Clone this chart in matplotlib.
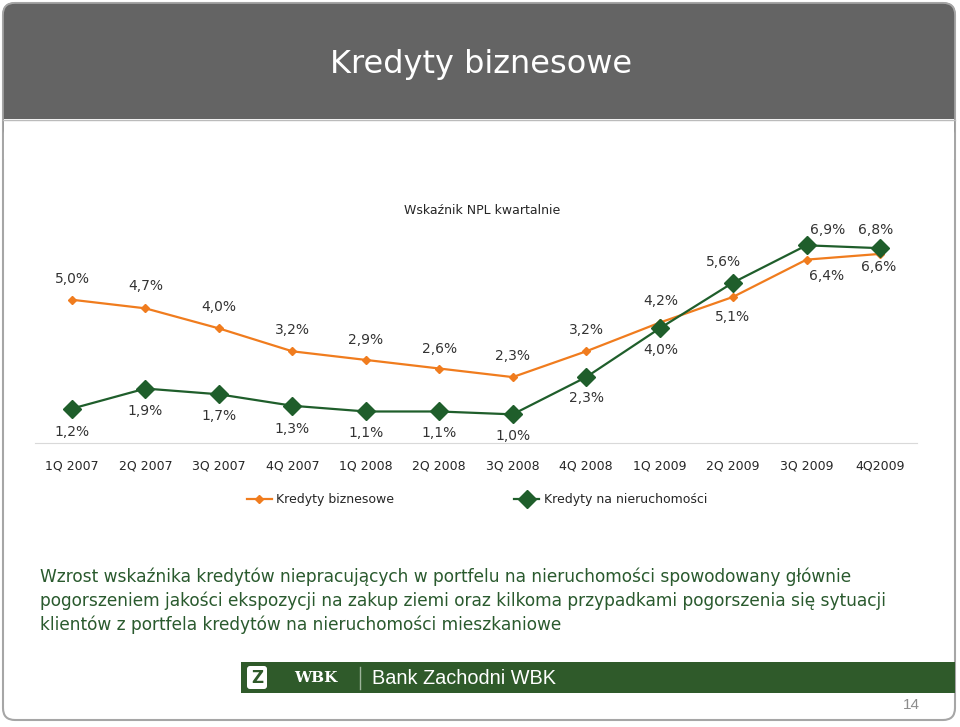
import matplotlib
matplotlib.use("Agg")
import matplotlib.pyplot as plt
from matplotlib.patches import FancyBboxPatch, Rectangle

plt.rcParams['font.family'] = ['DejaVu Sans']

# ---- data ----
categories = ["1Q 2007", "2Q 2007", "3Q 2007", "4Q 2007", "1Q 2008", "2Q 2008",
              "3Q 2008", "4Q 2008", "1Q 2009", "2Q 2009", "3Q 2009", "4Q2009"]
biznesowe = [5.0, 4.7, 4.0, 3.2, 2.9, 2.6, 2.3, 3.2, 4.2, 5.1, 6.4, 6.6]
nieruchomosci = [1.2, 1.9, 1.7, 1.3, 1.1, 1.1, 1.0, 2.3, 4.0, 5.6, 6.9, 6.8]
series_names = ["Kredyty biznesowe", "Kredyty na nieruchomości"]
chart_title = "Wskaźnik NPL kwartalnie"
slide_title = "Kredyty biznesowe"
body_text = ("Wzrost wskaźnika kredytów niepracujących w portfelu na nieruchomości spowodowany głównie\n"
             "pogorszeniem jakości ekspozycji na zakup ziemi oraz kilkoma przypadkami pogorszenia się sytuacji\n"
             "klientów z portfela kredytów na nieruchomości mieszkaniowe")
bank_name = "Bank Zachodni WBK"
page_no = "14"

# label offsets in pixels (dx, dy; dy positive = down)
off_b = [(0, -21), (0, -22), (0, -21), (0, -21), (0, -20), (0, -20), (0, -21), (0, -21),
         (1, -22), (-1, 20), (20, 16), (-1, 13)]
off_n = [(0, 23), (0, 22), (0, 22), (0, 23), (0, 22), (0, 22), (0, 22), (0, 21),
         (1, 22), (-10, -21), (21, -15), (-4, -18)]

ORANGE = "#F07C1E"
GREEN = "#1F5E2B"
W, H = 960, 727
fig = plt.figure(figsize=(W / 100, H / 100), dpi=100)

# ---- slide decoration (pixel coordinate background axes) ----
bg = fig.add_axes([0, 0, 1, 1])
bg.set_xlim(0, W)
bg.set_ylim(H, 0)
bg.axis("off")
bg.add_patch(FancyBboxPatch((3, 3), 952, 717, boxstyle="round,pad=0,rounding_size=12",
                            facecolor="white", edgecolor="#A6A6A6", lw=1.5))
bg.add_patch(FancyBboxPatch((3, 3), 952, 140, boxstyle="round,pad=0,rounding_size=12",
                            facecolor="#646464", edgecolor="#A6A6A6", lw=1.2))
bg.add_patch(Rectangle((3.8, 119), 950.4, 40, facecolor="white", edgecolor="none"))
bg.plot([3, 955], [119.5, 119.5], color="#BBBBBB", lw=1)
bg.text(481, 65, slide_title, color="white", fontsize=23, ha="center", va="center")

# footer
bg.add_patch(Rectangle((241, 662), 714, 31, facecolor="#2F5A2A", edgecolor="none"))
bg.add_patch(FancyBboxPatch((247, 666), 20, 23, boxstyle="round,pad=0,rounding_size=3",
                            facecolor="white", edgecolor="none"))
bg.text(257, 678, "Z", color="#2F5A2A", fontsize=12, fontweight="bold", ha="center", va="center")
bg.text(316, 678, "WBK", color="white", fontsize=11, fontweight="bold", ha="center", va="center",
        family=["DejaVu Serif"])
bg.plot([360, 360], [667, 689], color="#9DB39A", lw=1)
bg.text(372, 678, bank_name, color="white", fontsize=14.3, ha="left", va="center",
        family=["Liberation Sans"])
bg.text(911, 705, page_no, color="#8C8C8C", fontsize=11, ha="center", va="center",
        family=["Liberation Sans"])

# body text
bg.text(40, 601, body_text, color="#2A5A2E", fontsize=12.25, ha="left", va="center",
        linespacing=1.38)
bg.text(482, 211, chart_title, color="#262626", fontsize=9, ha="center", va="center")

# ---- chart ----
y0_px, px_per_unit = 443, 28.65
ymax = 7.5
ax = fig.add_axes([35.3 / W, (H - y0_px) / H, 881.4 / W, ymax * px_per_unit / H])
ax.set_xlim(-0.5, len(categories) - 0.5)
ax.set_ylim(0, ymax)
ax.patch.set_alpha(0)
for s in ["top", "right", "left"]:
    ax.spines[s].set_visible(False)
ax.spines["bottom"].set_color("#D9D9D9")
ax.spines["bottom"].set_linewidth(0.8)
ax.set_yticks([])
x = list(range(len(categories)))
ax.set_xticks(x)
ax.set_xticklabels(categories, fontsize=9, color="#262626")
ax.tick_params(axis="x", length=0, pad=12)

lb, = ax.plot(x, biznesowe, color=ORANGE, lw=1.6, marker="D", markersize=4.5,
              label=series_names[0], clip_on=False)
ln, = ax.plot(x, nieruchomosci, color=GREEN, lw=1.6, marker="D", markersize=9.3,
              label=series_names[1], clip_on=False)

pt = 72 / 100
for xi, v, (dx, dy) in zip(x, biznesowe, off_b):
    ax.annotate(f"{v:.1f}%".replace(".", ","), (xi, v), xytext=(dx * pt, -dy * pt),
                textcoords="offset points", ha="center", va="center", fontsize=10, color="#333333")
for xi, v, (dx, dy) in zip(x, nieruchomosci, off_n):
    ax.annotate(f"{v:.1f}%".replace(".", ","), (xi, v), xytext=(dx * pt, -dy * pt),
                textcoords="offset points", ha="center", va="center", fontsize=10, color="#333333")

fig.legend(handles=[lb, ln], loc="center", bbox_to_anchor=(477 / W, 1 - 500 / H), ncol=2,
           frameon=False, fontsize=9, handlelength=2.0, handletextpad=0.35,
           columnspacing=9.6, labelcolor="#262626")

fig.savefig("out.png", dpi=100)
